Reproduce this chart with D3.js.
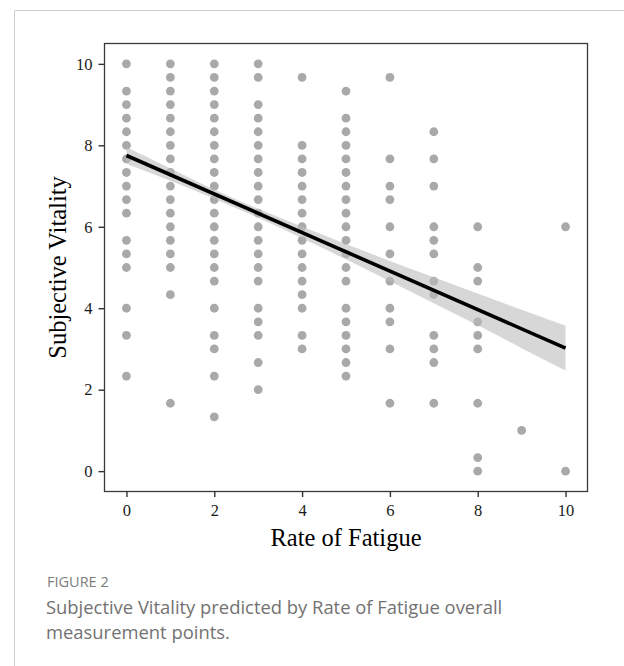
<!DOCTYPE html>
<html>
<head>
<meta charset="utf-8">
<script src="https://cdn.jsdelivr.net/npm/d3@7"></script>
<style>
  html, body { margin: 0; padding: 0; background: #fff; }
  svg { display: block; }
</style>
</head>
<body>
<svg id="chart" width="624" height="666"></svg>
<script>
// ---- data ----
const fatigueLevels = [0, 1, 2, 3, 4, 5, 6, 7, 8, 9, 10];
const vitalityAt0 = [10, 9.333, 9, 8.667, 8.333, 8, 7.667, 7.333, 7, 6.667, 6.333, 5.667, 5.333, 5, 4, 3.333, 2.333];
const vitalityAt1 = [10, 9.667, 9.333, 9, 8.667, 8.333, 8, 7.667, 7.333, 7, 6.667, 6.333, 6, 5.667, 5.333, 5, 4.333, 1.667];
const vitalityAt2 = [10, 9.667, 9.333, 9, 8.667, 8.333, 8, 7.667, 7.333, 7, 6.667, 6.333, 6, 5.667, 5.333, 5, 4.667, 4, 3.333, 3, 2.333, 1.333];
const vitalityAt3 = [10, 9.667, 9, 8.667, 8.333, 8, 7.667, 7.333, 7, 6.667, 6.333, 6, 5.667, 5.333, 5, 4.667, 4, 3.667, 3.333, 2.667, 2];
const vitalityAt4 = [9.667, 8, 7.667, 7.333, 7, 6.667, 6.333, 6, 5.667, 5.333, 5, 4.667, 4.333, 4, 3.333, 3];
const vitalityAt5 = [9.333, 8.667, 8.333, 8, 7.667, 7.333, 7, 6.667, 6.333, 6, 5.667, 5.333, 5, 4.667, 4, 3.667, 3.333, 3, 2.667, 2.333];
const vitalityAt6 = [9.667, 7.667, 7, 6.667, 6, 5.333, 4.667, 4, 3.667, 3, 1.667];
const vitalityAt7 = [8.333, 7.667, 7, 6, 5.667, 5.333, 4.667, 4.333, 3.333, 3, 2.667, 1.667];
const vitalityAt8 = [6, 5, 4.667, 3.667, 3.333, 3, 1.667, 0.333, 0];
const vitalityAt9 = [1];
const vitalityAt10 = [6, 0];
const vitalityColumns = [vitalityAt0, vitalityAt1, vitalityAt2, vitalityAt3, vitalityAt4, vitalityAt5,
                         vitalityAt6, vitalityAt7, vitalityAt8, vitalityAt9, vitalityAt10];

// fitted regression line and its confidence band
const fitX = [0, 10];
const fitY = [7.75, 3.02];
const bandX = [0, 1, 2, 3, 4, 5, 6, 7, 8, 9, 10];
const bandLow  = [7.55, 7.13, 6.69, 6.22, 5.72, 5.20, 4.66, 4.12, 3.58, 3.02, 2.47];
const bandHigh = [7.95, 7.43, 6.91, 6.44, 6.00, 5.58, 5.16, 4.76, 4.36, 3.96, 3.57];

const xTicks = [0, 2, 4, 6, 8, 10];
const yTicks = [0, 2, 4, 6, 8, 10];
const xTitle = "Rate of Fatigue";
const yTitle = "Subjective Vitality";
const figLabel = "FIGURE 2";
const captionLines = ["Subjective Vitality predicted by Rate of Fatigue overall", "measurement points."];

// ---- drawing ----
const svg = d3.select("#chart");
const pLeft = 104.5, pRight = 587.5, pTop = 43.5, pBottom = 491.5;

// outer frame lines of the figure panel
svg.append("line").attr("x1", 14.5).attr("x2", 624).attr("y1", 10.5).attr("y2", 10.5)
  .attr("stroke", "#cfcfcf").attr("stroke-width", 1);
svg.append("line").attr("x1", 14.5).attr("x2", 14.5).attr("y1", 10.5).attr("y2", 666)
  .attr("stroke", "#cfcfcf").attr("stroke-width", 1);

const x = d3.scaleLinear().domain([-0.5, 10.5]).range([pLeft, pRight]);
const y = d3.scaleLinear().domain([-0.5, 10.5]).range([pBottom, pTop]);

const points = [];
vitalityColumns.forEach((col, i) => col.forEach(v => points.push({ x: fatigueLevels[i], y: v })));

svg.append("g").selectAll("circle").data(points).join("circle")
  .attr("cx", d => x(d.x)).attr("cy", d => y(d.y)).attr("r", 4.4)
  .attr("fill", "#a9a9a9");

// confidence band
const band = bandX.map((bx, i) => ({ x: bx, lo: bandLow[i], hi: bandHigh[i] }));
svg.append("path").datum(band)
  .attr("d", d3.area().curve(d3.curveMonotoneX).x(d => x(d.x)).y0(d => y(d.lo)).y1(d => y(d.hi)))
  .attr("fill", "#bdbdbd").attr("fill-opacity", 0.6);

// regression line
svg.append("path").datum(fitX.map((fx, i) => ({ x: fx, y: fitY[i] })))
  .attr("d", d3.line().x(d => x(d.x)).y(d => y(d.y)))
  .attr("fill", "none").attr("stroke", "#000").attr("stroke-width", 3.6);

// panel border
svg.append("rect").attr("x", pLeft).attr("y", pTop)
  .attr("width", pRight - pLeft).attr("height", pBottom - pTop)
  .attr("fill", "none").attr("stroke", "#3a3a3a").attr("stroke-width", 1.3);

// axes
const xAxis = svg.append("g").attr("transform", `translate(0,${pBottom})`)
  .call(d3.axisBottom(x).tickValues(xTicks).tickSize(5.5).tickPadding(7).tickFormat(d3.format("d")));
const yAxis = svg.append("g").attr("transform", `translate(${pLeft},0)`)
  .call(d3.axisLeft(y).tickValues(yTicks).tickSize(6).tickPadding(6).tickFormat(d3.format("d")));
[xAxis, yAxis].forEach(a => {
  a.select(".domain").remove();
  a.selectAll(".tick line").attr("stroke", "#333").attr("stroke-width", 1.4);
  a.selectAll(".tick text").attr("fill", "#1a1a1a")
    .style("font-family", "'Liberation Serif', 'Times New Roman', serif").style("font-size", "16.5px");
});

// axis titles
svg.append("text").attr("x", (x(0) + x(10)) / 2).attr("y", 546)
  .attr("text-anchor", "middle").attr("fill", "#000")
  .style("font-family", "'Liberation Serif', 'Times New Roman', serif").style("font-size", "24.5px")
  .text(xTitle);
svg.append("text").attr("transform", `translate(65.5,${(y(0) + y(10)) / 2}) rotate(-90)`)
  .attr("text-anchor", "middle").attr("fill", "#000")
  .style("font-family", "'Liberation Serif', 'Times New Roman', serif").style("font-size", "24.5px")
  .text(yTitle);

// caption
svg.append("text").attr("x", 47).attr("y", 587)
  .attr("fill", "#7d7d7d")
  .style("font-family", "'Open Sans', 'Noto Sans', sans-serif").style("font-size", "14.5px")
  .style("font-weight", 500).text(figLabel);
svg.append("g").selectAll("text").data(captionLines).join("text")
  .attr("x", 46).attr("y", (d, i) => 614 + i * 25)
  .attr("fill", "#727272")
  .style("font-family", "'Open Sans', 'Noto Sans', sans-serif").style("font-size", "18.4px")
  .text(d => d);
</script>
</body>
</html>
